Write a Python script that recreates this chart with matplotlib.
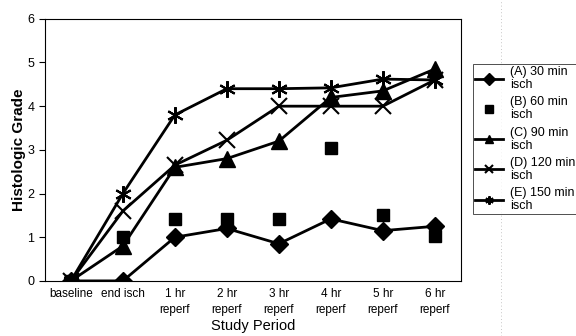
import numpy as np
import matplotlib.pyplot as plt

plt.rcParams['font.family'] = ['Liberation Sans', 'DejaVu Sans']

# Histologic grade by study period
periods = ['baseline', 'end isch', '1 hr\nreperf', '2 hr\nreperf', '3 hr\nreperf',
           '4 hr\nreperf', '5 hr\nreperf', '6 hr\nreperf']
grade_a = [0, 0, 1.0, 1.2, 0.85, 1.42, 1.15, 1.25]
grade_b = [0, 1.0, 1.42, 1.42, 1.42, 3.05, 1.52, 1.03]
grade_c = [0, 0.8, 2.6, 2.8, 3.2, 4.2, 4.35, 4.85]
grade_d = [0, 1.6, 2.65, 3.22, 4.0, 4.0, 4.0, 4.6]
grade_e = [0, 2.0, 3.8, 4.4, 4.4, 4.42, 4.62, 4.6]
labels = ['(A) 30 min\nisch', '(B) 60 min\nisch', '(C) 90 min\nisch',
          '(D) 120 min\nisch', '(E) 150 min\nisch']

fig = plt.figure(figsize=(5.76, 3.36), dpi=100)
ax = fig.add_axes([0.078, 0.164, 0.722, 0.78])

x = np.arange(len(periods))
ax.plot(x, grade_a, color='black', lw=2, marker='D', ms=9, label=labels[0])
ax.plot(x, grade_b, color='black', lw=0, marker='s', ms=9, label=labels[1])
ax.plot(x, grade_c, color='black', lw=2, marker='^', ms=11, label=labels[2])
ax.plot(x, grade_d, color='black', lw=2, marker='x', ms=11, mew=1.5, label=labels[3])
ax.plot(x, grade_e, color='black', lw=2, marker=(6, 2, 0), ms=12, mew=1.5, label=labels[4])

ax.set_xlim(-0.5, 7.5)
ax.set_ylim(0, 6)
ax.set_yticks(range(7))
ax.set_xticks(x)
ax.set_xticklabels(periods, fontsize=8.5, va='top', linespacing=1.45)
ax.tick_params(axis='x', length=0, pad=5)
ax.tick_params(axis='y', labelsize=9, length=4, direction='out')
for s in ax.spines.values():
    s.set_linewidth(0.8)
ax.set_ylabel('Histologic Grade', fontsize=11, fontweight='bold', labelpad=1)
ax.set_xlabel('Study Period', fontsize=10.5, labelpad=2)

leg = fig.legend(loc='upper left', bbox_to_anchor=(0.821, 0.81), fontsize=9,
                 frameon=True, fancybox=False, edgecolor='black', handlelength=2.2,
                 handletextpad=0.6, labelspacing=0.42, borderpad=0.2, borderaxespad=0)
leg.get_frame().set_linewidth(0.6)
for t in leg.get_texts():
    t.set_linespacing(1.1)
for h in leg.legend_handles:
    h.set_markersize(6)

# faint dotted scan line at the right
fig.add_artist(plt.Line2D([0.87, 0.87], [0, 1], transform=fig.transFigure,
                          color='gray', lw=0.6, ls=(0, (1, 3)), alpha=0.6))

plt.savefig('out.png', dpi=100)
